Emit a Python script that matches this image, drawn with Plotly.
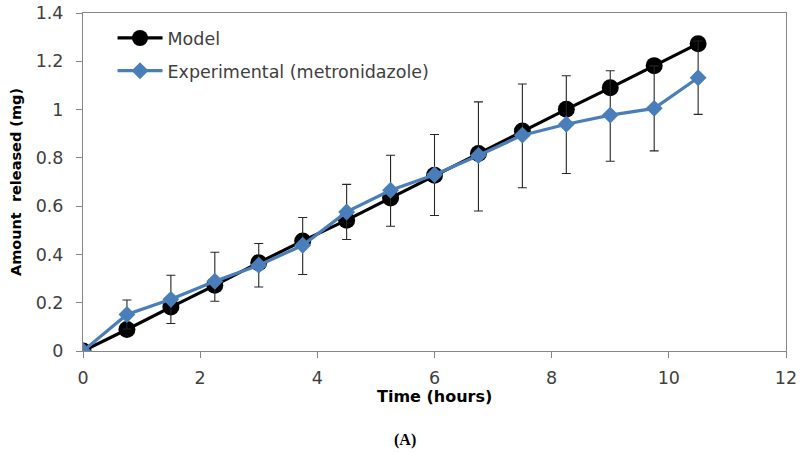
import plotly.graph_objects as go

time_h = [0, 0.75, 1.5, 2.25, 3, 3.75, 4.5, 5.25, 6, 6.75, 7.5, 8.25, 9, 9.75, 10.5]
model = [0, 0.089, 0.182, 0.272, 0.366, 0.456, 0.542, 0.634, 0.728, 0.818, 0.911, 1.001, 1.090, 1.182, 1.273]
experimental = [0, 0.151, 0.214, 0.289, 0.355, 0.438, 0.576, 0.666, 0.730, 0.810, 0.894, 0.939, 0.977, 1.005, 1.132]
exp_err_plus = [0, 0.06, 0.10, 0.12, 0.09, 0.115, 0.114, 0.145, 0.167, 0.222, 0.212, 0.201, 0.184, 0.176, 0.152]
exp_err_minus = [0, 0.06, 0.10, 0.083, 0.09, 0.121, 0.114, 0.149, 0.169, 0.230, 0.218, 0.204, 0.191, 0.176, 0.152]

x_ticks = [0, 2, 4, 6, 8, 10, 12]
y_ticks = [0, 0.2, 0.4, 0.6, 0.8, 1.0, 1.2, 1.4]
y_tick_text = ["0", "0.2", "0.4", "0.6", "0.8", "1", "1.2", "1.4"]

font_family = "DejaVu Sans, sans-serif"
grey = "#404040"
axis_grey = "#868686"

fig = go.Figure()
fig.add_trace(go.Scatter(
    x=time_h, y=model, name="Model", mode="lines+markers",
    line=dict(color="black", width=3.2),
    marker=dict(symbol="circle", size=17, color="black"),
    legendgroup="a",
))
fig.add_trace(go.Scatter(
    x=time_h, y=experimental, name="Experimental (metronidazole)", mode="lines+markers",
    line=dict(color="#4a7ebb", width=3.2),
    marker=dict(symbol="diamond", size=13, color="#4a7ebb"),
    error_y=dict(type="data", array=exp_err_plus, arrayminus=exp_err_minus,
                 color="#262626", thickness=1.1, width=4.5),
    legendgroup="b",
))

fig.update_layout(
    width=800, height=453,
    margin=dict(l=83, r=14, t=13, b=102, autoexpand=False),
    paper_bgcolor="white", plot_bgcolor="white",
    font=dict(family=font_family, color=grey, size=17.5),
    showlegend=True,
    legend=dict(x=0.042, y=0.979, xanchor="left", yanchor="top",
                bgcolor="rgba(0,0,0,0)", font=dict(size=17.5, color=grey),
                tracegroupgap=7, itemwidth=45),
    xaxis=dict(range=[0, 12], tickvals=x_ticks, showgrid=False, zeroline=False,
               showline=True, linecolor=axis_grey, linewidth=1, mirror=True,
               ticks="outside", ticklen=6, tickcolor=axis_grey, ticklabelstandoff=5,
               ticklabeloverflow="allow",
               tickfont=dict(size=17.5, color=grey), automargin=False),
    yaxis=dict(range=[0, 1.4], tickvals=y_ticks, ticktext=y_tick_text, showgrid=False, zeroline=False,
               showline=True, linecolor=axis_grey, linewidth=1, mirror=True,
               ticks="outside", ticklen=6, tickcolor=axis_grey, ticklabelstandoff=9,
               ticklabeloverflow="allow",
               tickfont=dict(size=17.5, color=grey), automargin=False,
               title=dict(text="<b>Amount  released (mg)</b>", font=dict(size=14.5, color="black"), standoff=10)),
)
fig.add_annotation(text="<b>Time (hours)</b>", xref="paper", yref="paper", x=0.5, y=-0.135,
                   xanchor="center", yanchor="middle", showarrow=False,
                   font=dict(family=font_family, size=16, color="black"))
fig.add_annotation(text="<b>(A)</b>", xref="paper", yref="paper", x=0.458, y=-0.262,
                   xanchor="center", yanchor="middle", showarrow=False,
                   font=dict(family="Liberation Serif, serif", size=16, color="black"))

fig.write_html(
    "out.html",
    config={"displayModeBar": False},
    post_script="document.body.style.margin='0';document.body.style.padding='0';document.body.style.overflow='hidden';",
)
